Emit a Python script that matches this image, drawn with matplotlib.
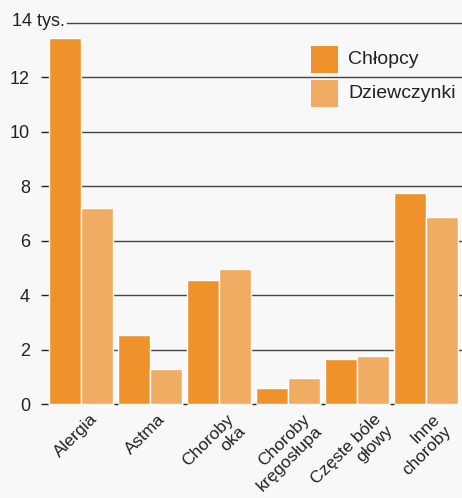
import matplotlib.pyplot as plt
from matplotlib.patches import Rectangle
import numpy as np

plt.rcParams['font.family'] = ['Liberation Sans', 'DejaVu Sans']

# data (tys.)
categories = ['Alergia', 'Astma', 'Choroby\noka', 'Choroby\nkręgosłupa',
              'Częste bóle\ngłowy', 'Inne\nchoroby']
chlopcy = [13.45, 2.54, 4.56, 0.59, 1.65, 7.76]
dziewczynki = [7.2, 1.29, 4.96, 0.96, 1.76, 6.87]
series_names = ['Chłopcy', 'Dziewczynki']
yticks = [0, 2, 4, 6, 8, 10, 12]

c_boys = '#F0922B'
c_girls = '#F0AC62'
txt = '#222222'

W, H = 462, 498
fig = plt.figure(figsize=(W / 100, H / 100), dpi=100, facecolor='#f8f8f8')
ax = fig.add_axes([48 / W, 94 / H, (W - 48) / W, (404 - 23) / H])
ax.set_facecolor('none')

x = np.arange(len(categories))
w = 0.464
ax.bar(x - w / 2, chlopcy, w, color=c_boys, edgecolor='white', linewidth=1, zorder=3)
ax.bar(x + w / 2, dziewczynki, w, color=c_girls, edgecolor='white', linewidth=1, zorder=3)

ax.set_xlim(-0.48, len(categories) - 0.48)
ax.set_ylim(0, 14)

# gridlines
for v in yticks[1:]:
    ax.axhline(v, color='#444444', lw=1, zorder=1)
ax.axhline(14, xmin=(67 - 48) / (W - 48), color='#444444', lw=1, zorder=1, clip_on=False)

ax.set_yticks(yticks)
ax.set_yticklabels([str(v) for v in yticks])
ax.tick_params(axis='y', length=5, width=1, color='#222222', pad=8,
               labelsize=13, labelcolor=txt)
fig.text(12 / W, 1 - 22 / H, '14 tys.', ha='left', va='center', fontsize=13, color=txt)

ax.set_xticks([])
for s in ax.spines.values():
    s.set_visible(False)

# small dashes between groups
ax.scatter(x[:-1] + 0.5, np.zeros(len(x) - 1), marker='_', s=8, color='#222222',
           linewidths=1, clip_on=False, zorder=4)

for i, lab in enumerate(categories):
    ax.text(i - 0.07, -0.27, lab, rotation=45, ha='center', va='top',
            multialignment='right', fontsize=12.5, color=txt, linespacing=1.15)

# legend drawn by hand (square swatches)
for j, (name, col) in enumerate(zip(series_names, [c_boys, c_girls])):
    top = 46 + j * 34
    fig.patches.append(Rectangle((311 / W, 1 - (top + 27) / H), 27 / W, 27 / H,
                                 transform=fig.transFigure, facecolor=col,
                                 edgecolor='none'))
    fig.text(348 / W, 1 - (top + 14) / H, name, ha='left', va='center',
             fontsize=14, color=txt)

fig.savefig('out.png', dpi=100, facecolor=fig.get_facecolor())
